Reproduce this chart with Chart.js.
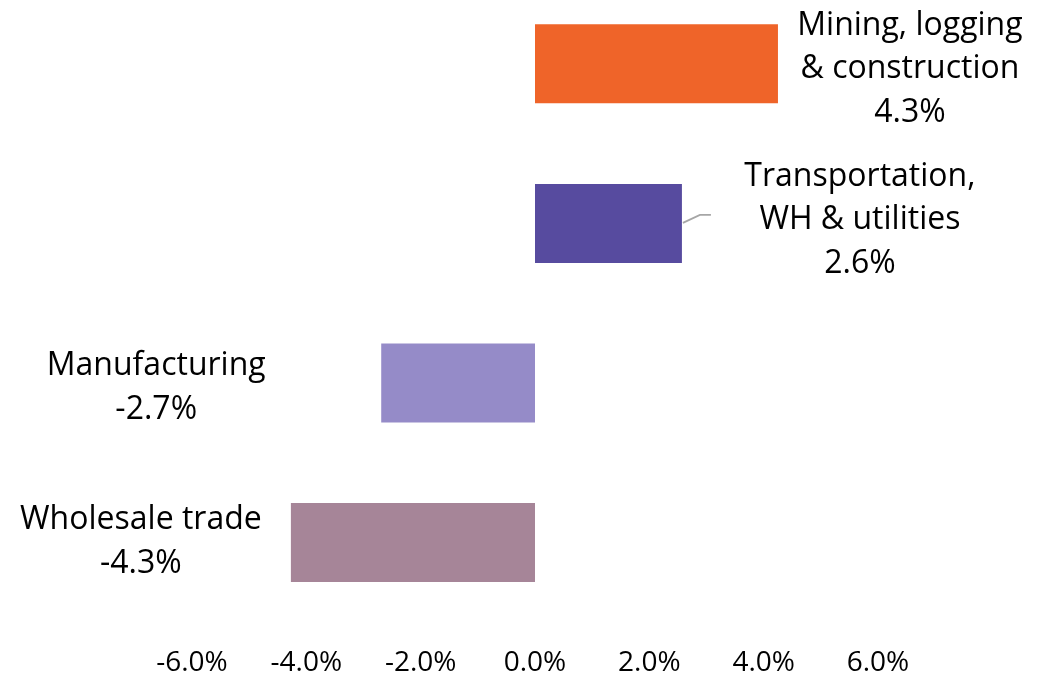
<!DOCTYPE html>
<html>
<head>
<meta charset="utf-8">
<script src="https://cdn.jsdelivr.net/npm/chart.js@4"></script>
<style>
  html, body { margin: 0; padding: 0; background: #fff; overflow: hidden; }
  /* canvas is taller than the window and pulled up a little,
     the top band of the first category is cut off in the original */
  #wrap { width: 1051px; height: 720px; margin-top: -16px; position: relative; }
</style>
</head>
<body>
<div id="wrap"><canvas id="chart"></canvas></div>
<script>
// Chart data
const categories = ["Mining, logging & construction", "Transportation, WH & utilities", "Manufacturing", "Wholesale trade"];
const labelLines = [["Mining, logging", "& construction"], ["Transportation,", "WH & utilities"], ["Manufacturing"], ["Wholesale trade"]];
const changes = [4.25, 2.57, -2.69, -4.27];
const barColors = ["#ef6429", "#574b9f", "#958bc8", "#a68598"];
const xTicks = [-6, -4, -2, 0, 2, 4, 6];

// Label placement relative to the end of each bar (moved by hand, like Excel)
const labelOffsets = [
  { dx: 132, dy: 3 },
  { dx: 178, dy: -5.5 },
  { dx: -225, dy: 2.5 },
  { dx: -150, dy: -3 }
];

const FONT = "'Open Sans', 'Noto Sans', sans-serif";
const LABEL_SIZE = 32;
const LINE_H = 43.5;

// Draws the data labels and the leader line for the transportation bar
const barLabels = {
  id: "barLabels",
  afterDatasetsDraw(chart) {
    const ctx = chart.ctx;
    const meta = chart.getDatasetMeta(0);
    ctx.save();
    ctx.font = LABEL_SIZE + "px " + FONT;
    ctx.fillStyle = "#000";
    ctx.textAlign = "center";
    ctx.textBaseline = "alphabetic";
    const capHalf = LABEL_SIZE * 0.714 / 2;
    meta.data.forEach((bar, i) => {
      const lines = labelLines[i].concat([changes[i].toFixed(1) + "%"]);
      const cx = bar.x + labelOffsets[i].dx;
      const cy = bar.y + labelOffsets[i].dy;
      const top = cy - (lines.length - 1) * LINE_H / 2;
      lines.forEach((t, j) => ctx.fillText(t, cx, top + j * LINE_H + capHalf));
    });

    // leader line (Transportation)
    const b = meta.data[1];
    ctx.strokeStyle = "#a6a6a6";
    ctx.lineWidth = 1.8;
    ctx.beginPath();
    ctx.moveTo(b.x + 1, b.y - 0.5);
    ctx.lineTo(b.x + 18, b.y - 8.5);
    ctx.lineTo(b.x + 29, b.y - 8.5);
    ctx.stroke();
    ctx.restore();
  }
};

new Chart(document.getElementById("chart"), {
  type: "bar",
  data: {
    labels: categories,
    datasets: [{
      data: changes,
      backgroundColor: barColors,
      barPercentage: 0.495,
      categoryPercentage: 1.0
    }]
  },
  options: {
    indexAxis: "y",
    responsive: true,
    maintainAspectRatio: false,
    animation: false,
    layout: { padding: { left: 192, right: 173, top: 0, bottom: 0 } },
    plugins: {
      legend: { display: false },
      tooltip: { enabled: false }
    },
    scales: {
      x: {
        min: -6,
        max: 6,
        afterBuildTicks: (axis) => { axis.ticks = xTicks.map(v => ({ value: v })); },
        grid: { display: false, drawTicks: false },
        border: { display: false },
        ticks: {
          color: "#000",
          padding: 24,
          font: { family: FONT, size: 28 },
          maxRotation: 0,
          autoSkip: false,
          callback: (v) => Number(v).toFixed(1) + "%"
        }
      },
      y: {
        display: false,
        grid: { display: false },
        border: { display: false }
      }
    }
  },
  plugins: [barLabels]
});
</script>
</body>
</html>
